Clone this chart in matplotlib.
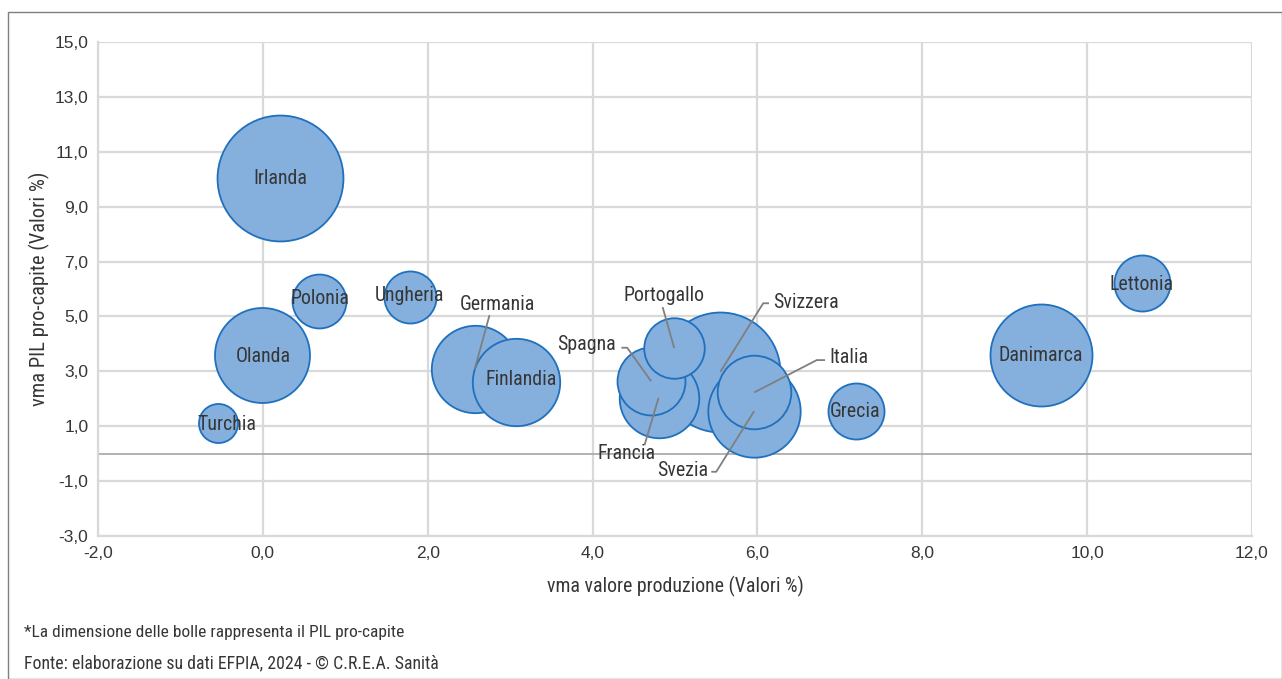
import matplotlib
matplotlib.use("Agg")
import matplotlib.pyplot as plt
from matplotlib.patches import Rectangle
from matplotlib.ticker import FixedLocator, FuncFormatter

# ---- data ----
countries = ["Irlanda", "Svizzera", "Danimarca", "Olanda", "Svezia", "Germania",
             "Finlandia", "Francia", "Italia", "Spagna", "Portogallo", "Lettonia",
             "Grecia", "Polonia", "Ungheria", "Turchia"]
vma_produzione = [0.21, 5.55, 9.44, -0.01, 5.96, 2.57, 3.07, 4.80, 5.96, 4.71, 4.99,
                  10.66, 7.19, 0.68, 1.78, -0.55]
vma_pil = [10.04, 2.98, 3.58, 3.61, 1.55, 3.08, 2.61, 2.03, 2.23, 2.64, 3.85,
           6.21, 1.54, 5.55, 5.71, 1.12]
pil_procapite = [103.0, 93.5, 67.6, 58.6, 55.4, 49.6, 49.6, 41.1, 35.2, 30.0, 23.8,
                 20.4, 20.4, 18.9, 17.6, 9.9]
x_ticks = [-2, 0, 2, 4, 6, 8, 10, 12]
y_ticks = [-3, -1, 1, 3, 5, 7, 9, 11, 13, 15]

# label anchors for labels with leader lines: (text x, text y, ha, leader start points)
callouts = {
    "Germania":   (2.85, 5.45, "center", [(2.75, 5.05)]),
    "Portogallo": (4.87, 5.78, "center", [(4.85, 5.34)]),
    "Svizzera":   (6.19, 5.52, "left",   [(6.14, 5.48), (6.07, 5.48)]),
    "Spagna":     (4.28, 3.96, "right",  [(4.35, 3.86), (4.42, 3.86)]),
    "Italia":     (6.87, 3.52, "left",   [(6.82, 3.41), (6.72, 3.41)]),
    "Francia":    (4.41, 0.02, "center", [(4.63, 0.31)]),
    "Svezia":     (5.40, -0.63, "right", [(5.44, -0.66), (5.50, -0.66)]),
}
inside_offsets = {"Turchia": (0.12, -0.05), "Olanda": (0.02, -0.08),
                  "Polonia": (0.01, 0.1), "Ungheria": (0.0, 0.05),
                  "Finlandia": (0.06, 0.08), "Lettonia": (0.0, -0.05)}

NARROW = ["Roboto Condensed", "PT Sans Narrow", "DejaVu Sans"]
REG = ["Liberation Sans", "Arimo", "DejaVu Sans"]
TXT = "#363636"

W, H = 1282, 679
fig = plt.figure(figsize=(W / 100, H / 100), dpi=100)
ax = fig.add_axes([98 / W, 1 - 536 / H, (1252 - 98) / W, (536 - 42) / H])

ax.set_xlim(-2, 12)
ax.set_ylim(-3, 15)
ax.xaxis.set_major_locator(FixedLocator(x_ticks))
ax.yaxis.set_major_locator(FixedLocator(y_ticks))
fmt = FuncFormatter(lambda v, p: f"{v:.1f}".replace(".", ","))
ax.xaxis.set_major_formatter(fmt)
ax.yaxis.set_major_formatter(fmt)
ax.tick_params(length=0, labelsize=12.5, colors=TXT, pad=7)
for lab in ax.get_xticklabels() + ax.get_yticklabels():
    lab.set_family(REG)
ax.grid(True, color="#d9d9d9", lw=1.6)
ax.set_axisbelow(True)
for s in ["top", "right"]:
    ax.spines[s].set_visible(False)
for s in ["left", "bottom"]:
    ax.spines[s].set_color("#d9d9d9")
    ax.spines[s].set_linewidth(1.6)
ax.axhline(0, color="#a6a6a6", lw=1.2, zorder=1)

# bubbles: area proportional to PIL pro-capite
k = 79.8
for i, c in enumerate(countries):
    ax.scatter(vma_produzione[i], vma_pil[i], s=pil_procapite[i] * k,
               facecolor="#85afdd", edgecolor="#1f70bd", linewidth=1.3,
               zorder=3 + i)

# labels
for i, c in enumerate(countries):
    x, y = vma_produzione[i], vma_pil[i]
    if c in callouts:
        tx, ty, ha, pts = callouts[c]
        pts = pts + [(x, y)]
        ax.plot([p[0] for p in pts], [p[1] for p in pts], color="#7f7f7f",
                lw=1.3, zorder=40, solid_capstyle="butt")
        ax.text(tx, ty, c, ha=ha, va="center", fontsize=14.3, color=TXT,
                family=NARROW, zorder=50)
    else:
        dx, dy = inside_offsets.get(c, (0.0, 0.0))
        ax.text(x + dx, y + dy, c, ha="center", va="center", fontsize=14.3,
                color=TXT, family=NARROW, zorder=50)

ax.set_xlabel("vma valore produzione (Valori %)", fontsize=14.3, color=TXT,
              family=NARROW, labelpad=11)
ax.set_ylabel("vma PIL pro-capite (Valori %)", fontsize=14.8, color=TXT,
              family=NARROW, labelpad=3)

fig.text(24 / W, 1 - 632 / H, "*La dimensione delle bolle rappresenta il PIL pro-capite",
         fontsize=12.5, color=TXT, family=NARROW, va="center", ha="left")
fig.text(24 / W, 1 - 663 / H, "Fonte: elaborazione su dati EFPIA, 2024 - © C.R.E.A. Sanità",
         fontsize=12.8, color=TXT, family=NARROW, va="center", ha="left")

fig.patches.append(Rectangle((8 / W, 0), 1 - 8 / W, 1 - 12 / H, transform=fig.transFigure,
                             fill=False, edgecolor="#7f7f7f", lw=1.0))

fig.savefig("out.png", dpi=100)
